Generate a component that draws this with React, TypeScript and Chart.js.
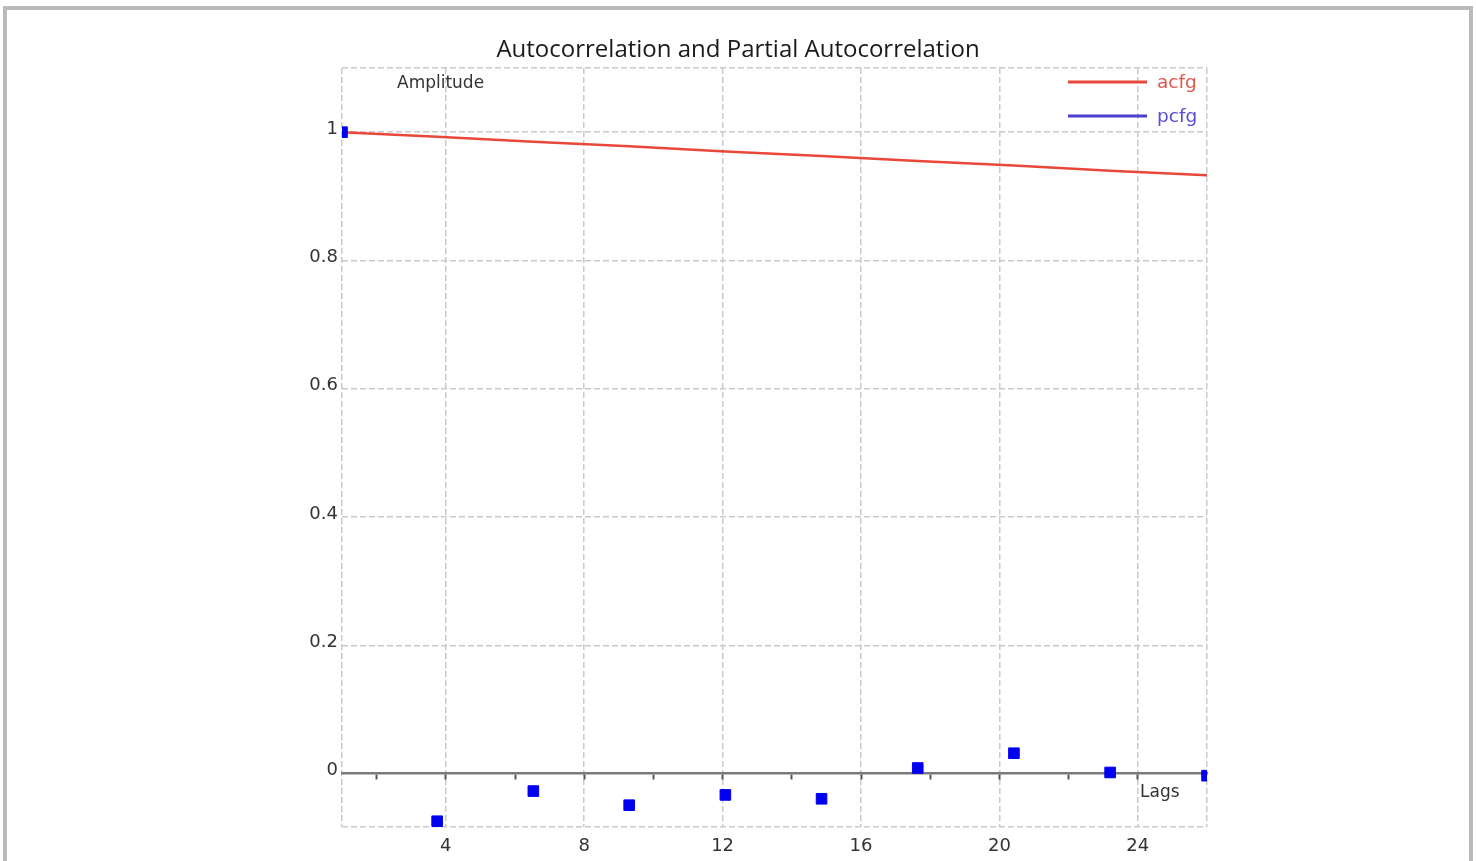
import React, { useEffect, useRef } from "react";
import { Chart, registerables } from "chart.js";

Chart.register(...registerables);

const TITLE = "Autocorrelation and Partial Autocorrelation";
const Y_LABEL = "Amplitude";
const X_LABEL = "Lags";
const SERIES_NAMES = ["acfg", "pcfg"];

const LAGS = [1.0, 3.75, 6.53, 9.3, 12.08, 14.86, 17.64, 20.42, 23.2, 26.0];
const ACFG = [1.0, 0.993, 0.985, 0.978, 0.97, 0.963, 0.955, 0.948, 0.94, 0.933];
const PCFG = [1.0, -0.074, -0.027, -0.049, -0.033, -0.039, 0.009, 0.032, 0.002, -0.003];

const X_MIN = 1;
const X_MAX = 26;
const Y_MIN = -0.083;
const Y_MAX = 1.1;
const X_TICKS = [4, 8, 12, 16, 20, 24];
const X_MINOR_TICKS = [2, 4, 6, 8, 10, 12, 14, 16, 18, 20, 22, 24];
const Y_TICKS = [0, 0.2, 0.4, 0.6, 0.8, 1];
const Y_TICK_LABELS = ["0", "0.2", "0.4", "0.6", "0.8", "1"];

const RED = "#e8473a";
const RED_TEXT = "#e0584a";
const BLUE_POINT = "#0000f0";
const BLUE_LINE = "#4a3fd0";
const BLUE_TEXT = "#5a4ed8";
const GRID = "#cacaca";
const TICK_FONT = { family: "'DejaVu Sans'", size: 18 };

const decorPlugin = {
  id: "decor",
  afterDraw(chart: any) {
    const ctx = chart.ctx;
    const area = chart.chartArea;
    ctx.save();
    // title
    ctx.font = "24px 'Open Sans'";
    ctx.fillStyle = "#1a1a1a";
    ctx.textAlign = "center";
    ctx.textBaseline = "alphabetic";
    ctx.fillText(TITLE, chart.width / 2, 57);
    // axis labels
    ctx.font = "17px 'DejaVu Sans'";
    ctx.fillStyle = "#333";
    ctx.textAlign = "left";
    ctx.fillText(Y_LABEL, area.left + 55, 88);
    ctx.fillText(X_LABEL, area.right - 67, 797);
    // legend
    const rows = [
      { name: SERIES_NAMES[0], line: RED, text: RED_TEXT, y: 82 },
      { name: SERIES_NAMES[1], line: BLUE_LINE, text: BLUE_TEXT, y: 116 },
    ];
    ctx.font = "18.5px 'DejaVu Sans'";
    for (const r of rows) {
      ctx.strokeStyle = r.line;
      ctx.lineWidth = 3;
      ctx.beginPath();
      ctx.moveTo(area.right - 139, r.y);
      ctx.lineTo(area.right - 60, r.y);
      ctx.stroke();
      ctx.fillStyle = r.text;
      ctx.textBaseline = "middle";
      ctx.fillText(r.name, area.right - 50, r.y + 1);
    }
    ctx.restore();
  },
};

export default function App() {
  const ref = useRef<HTMLCanvasElement | null>(null);

  useEffect(() => {
    if (!ref.current) return;
    const chart = new Chart(ref.current, {
      type: "scatter",
      data: {
        datasets: [
          {
            label: SERIES_NAMES[1],
            data: LAGS.map((x, i) => ({ x, y: PCFG[i] })),
            showLine: false,
            pointStyle: "rect",
            pointRadius: 7.5,
            pointBorderWidth: 1,
            backgroundColor: BLUE_POINT,
            borderColor: BLUE_POINT,
            clip: 0,
            order: 0,
          },
          {
            label: SERIES_NAMES[0],
            data: LAGS.map((x, i) => ({ x, y: ACFG[i] })),
            showLine: true,
            pointRadius: 0,
            borderColor: RED,
            backgroundColor: RED,
            borderWidth: 2.5,
            clip: 0,
            order: 1,
          },
        ],
      },
      options: {
        responsive: false,
        animation: false,
        devicePixelRatio: 1,
        layout: { autoPadding: false, padding: { left: 0, top: 68, right: 269, bottom: 0 } },
        plugins: { legend: { display: false }, title: { display: false }, tooltip: { enabled: false } },
        scales: {
          x: {
            type: "linear",
            position: "bottom",
            min: X_MIN,
            max: X_MAX,
            afterFit: (s: any) => {
              s.height = 34;
            },
            afterBuildTicks: (s: any) => {
              s.ticks = [X_MIN, ...X_TICKS, X_MAX].map((v) => ({ value: v }));
            },
            ticks: {
              autoSkip: false,
              maxRotation: 0,
              padding: 9,
              color: "#333",
              font: TICK_FONT,
              callback: (v: any) => (X_TICKS.includes(v) ? String(v) : ""),
            },
            grid: { color: GRID, lineWidth: 1.5, drawTicks: false },
            border: { display: false, dash: [6, 3] },
          },
          x2: {
            type: "linear",
            axis: "x",
            position: { y: 0 },
            min: X_MIN,
            max: X_MAX,
            afterBuildTicks: (s: any) => {
              s.ticks = X_MINOR_TICKS.map((v) => ({ value: v }));
            },
            ticks: { display: false },
            grid: {
              drawOnChartArea: false,
              drawTicks: true,
              tickLength: 5,
              tickWidth: 2,
              tickColor: "#555",
            },
            border: { display: true, color: "#7a7a7a", width: 2.5 },
          },
          y: {
            type: "linear",
            position: "left",
            min: Y_MIN,
            max: Y_MAX,
            afterFit: (s: any) => {
              s.width = 342;
            },
            afterBuildTicks: (s: any) => {
              s.ticks = [Y_MIN, ...Y_TICKS, Y_MAX].map((v) => ({ value: v }));
            },
            ticks: {
              autoSkip: false,
              padding: 4,
              labelOffset: -3,
              color: "#333",
              font: TICK_FONT,
              callback: (v: any) => {
                const i = Y_TICKS.indexOf(v);
                return i >= 0 ? Y_TICK_LABELS[i] : "";
              },
            },
            grid: {
              color: (c: any) => (c.tick && c.tick.value === 0 ? "rgba(0,0,0,0)" : GRID),
              lineWidth: 1.5,
              drawTicks: false,
            },
            border: { display: false, dash: [6, 3] },
          },
        },
      },
      plugins: [decorPlugin],
    } as any);
    return () => chart.destroy();
  }, []);

  return (
    <div
      style={{
        position: "fixed",
        left: 0,
        top: 0,
        width: 1476,
        height: 861,
        background: "#fff",
        overflow: "hidden",
      }}
    >
      <div
        style={{
          position: "absolute",
          left: 3,
          top: 6,
          width: 1470,
          height: 900,
          border: "4px solid #bababa",
          boxSizing: "border-box",
        }}
      />
      <canvas
        ref={ref}
        width={1476}
        height={861}
        style={{ position: "absolute", left: 0, top: 0, width: 1476, height: 861 }}
      />
    </div>
  );
}
